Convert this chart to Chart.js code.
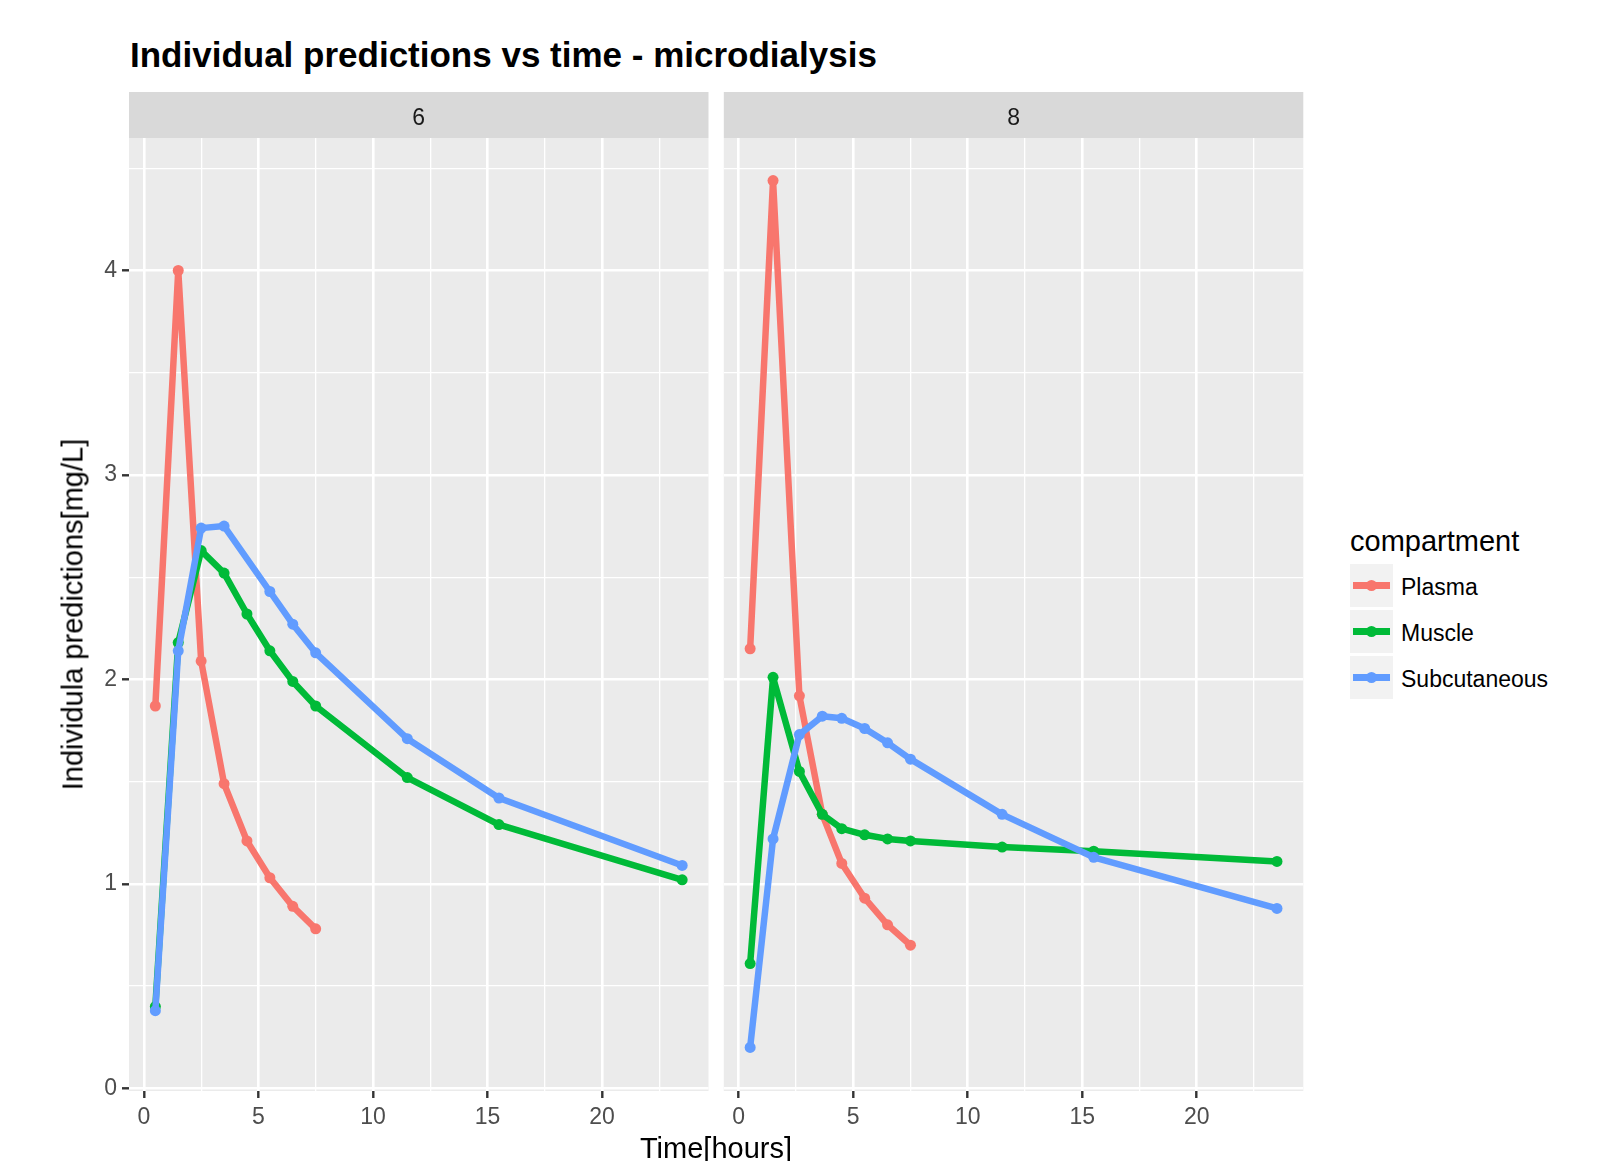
<!DOCTYPE html>
<html lang="en">
<head>
<meta charset="UTF-8">
<title>Individual predictions vs time - microdialysis</title>
<script src="https://cdn.jsdelivr.net/npm/chart.js@4"></script>
<style>
  body { margin: 0; background: #fff; font-family: "Liberation Sans", Arial, sans-serif; }
  #wrap { position: relative; width: 1600px; height: 1161px; overflow: hidden; }
  canvas { position: absolute; top: 0; }
  #c6 { left: 0; }
  #c8 { left: 715px; }
  .txt { position: absolute; white-space: nowrap; color: #000; }
  #title { left: 130px; top: 37px; font-size: 35px; line-height: 35px; font-weight: bold; }
  #xtitle { left: 516px; width: 400px; text-align: center; top: 1134px; font-size: 29px; line-height: 29px; }
  #ytitle { left: -127px; top: 600px; width: 400px; text-align: center; font-size: 29px; line-height: 29px; transform: rotate(-90deg); }
  .key { position: absolute; left: 1350px; width: 43px; height: 43px; background: #F2F2F2; }
  .key .ln { position: absolute; left: 3px; width: 37px; top: 18.25px; height: 6.5px; }
  .key .pt { position: absolute; left: 16px; top: 16px; width: 11px; height: 11px; border-radius: 50%; }
  .lab { position: absolute; left: 1401px; font-size: 23px; line-height: 23px; }
</style>
</head>
<body>
<div id="wrap">
  <div id="title" class="txt">Individual predictions vs time - microdialysis</div>
  <canvas id="c6" width="720" height="1161"></canvas>
  <canvas id="c8" width="600" height="1161"></canvas>
  <div id="xtitle" class="txt">Time[hours]</div>
  <div id="ytitle" class="txt">Individula predictions[mg/L]</div>
  <div id="legend"></div>
</div>
<script>
// values
const compartments = ['Plasma', 'Muscle', 'Subcutaneous'];
const colors = ['#F8766D', '#00BA38', '#619CFF'];

const time6 = [0.5, 1.5, 2.5, 3.5, 4.5, 5.5, 6.5, 7.5, 11.5, 15.5, 23.5];
const plasma6 = [1.87, 4.00, 2.09, 1.49, 1.21, 1.03, 0.89, 0.78, null, null, null];
const muscle6 = [0.40, 2.18, 2.63, 2.52, 2.32, 2.14, 1.99, 1.87, 1.52, 1.29, 1.02];
const subcut6 = [0.38, 2.14, 2.74, 2.75, null, 2.43, 2.27, 2.13, 1.71, 1.42, 1.09];

const time8 = [0.5, 1.5, 2.65, 3.65, 4.5, 5.5, 6.5, 7.5, 11.5, 15.5, 23.5];
const plasma8 = [2.15, 4.44, 1.92, 1.34, 1.10, 0.93, 0.80, 0.70, null, null, null];
const muscle8 = [0.61, 2.01, 1.55, 1.34, 1.27, 1.24, 1.22, 1.21, 1.18, 1.16, 1.11];
const subcut8 = [0.20, 1.22, 1.73, 1.82, 1.81, 1.76, 1.69, 1.61, 1.34, 1.13, 0.88];

const xTicks = [0, 5, 10, 15, 20];
const xMinor = [2.5, 7.5, 12.5, 17.5, 22.5];
const yTicks = [0, 1, 2, 3, 4];
const yMinor = [0.5, 1.5, 2.5, 3.5, 4.5];

const FONT = '"Liberation Sans", Arial, sans-serif';

// grey panel + facet strip
const panelBg = {
  id: 'panelBg',
  beforeDraw(chart, args, opts) {
    const { ctx, chartArea: a } = chart;
    ctx.save();
    ctx.fillStyle = '#EBEBEB';
    ctx.fillRect(a.left, a.top, a.right - a.left, a.bottom - a.top);
    ctx.fillStyle = '#D9D9D9';
    ctx.fillRect(a.left, 92, a.right - a.left, a.top - 92);
    ctx.fillStyle = '#1A1A1A';
    ctx.font = '23px ' + FONT;
    ctx.textAlign = 'center';
    ctx.fillText(opts.label, (a.left + a.right) / 2, 125);
    ctx.restore();
  }
};

function gridFor(major, showTicks) {
  return {
    color: '#FFFFFF',
    lineWidth: c => major.includes(c.tick.value) ? 2.6 : 1.3,
    drawTicks: showTicks,
    tickLength: 7,
    tickWidth: 2.4,
    tickColor: c => major.includes(c.tick.value) ? '#333333' : 'rgba(0,0,0,0)'
  };
}

function makePanel(id, label, time, series, showY, pad) {
  const datasets = series.map((vals, i) => ({
    label: compartments[i],
    data: time.map((t, k) => ({ x: t, y: vals[k] })).filter(p => p.y !== null),
    borderColor: colors[i],
    backgroundColor: colors[i],
    pointBackgroundColor: colors[i],
    borderWidth: 6.5,
    borderJoinStyle: 'round',
    pointRadius: 5.5,
    pointBorderWidth: 0,
    pointHoverRadius: 5.5,
    order: 2 - i
  }));
  return new Chart(document.getElementById(id), {
    type: 'line',
    data: { datasets },
    plugins: [panelBg],
    options: {
      responsive: false,
      animation: false,
      devicePixelRatio: 1,
      layout: { padding: { left: pad[0], right: pad[1], top: 138, bottom: 0 } },
      plugins: { legend: { display: false }, tooltip: { enabled: false }, panelBg: { label } },
      scales: {
        x: {
          type: 'linear', min: -0.65, max: 24.65,
          afterBuildTicks: s => { s.ticks = [...xTicks, ...xMinor].sort((a, b) => a - b).map(v => ({ value: v })); },
          afterFit: s => { s.height = 70; },
          border: { display: false },
          grid: gridFor(xTicks, true),
          ticks: {
            autoSkip: false, maxRotation: 0, padding: 6, color: '#4D4D4D',
            font: { size: 23, family: FONT },
            callback: v => xTicks.includes(v) ? String(v) : ''
          }
        },
        y: {
          type: 'linear', min: -0.013, max: 4.648,
          afterBuildTicks: s => { s.ticks = [...yTicks, ...yMinor].sort((a, b) => a - b).map(v => ({ value: v })); },
          afterFit: s => { s.width = showY ? 129 : 0; },
          border: { display: false },
          grid: gridFor(yTicks, showY),
          ticks: {
            display: showY, autoSkip: false, padding: 5, color: '#4D4D4D',
            font: { size: 23, family: FONT },
            callback: v => yTicks.includes(v) ? String(v) : ''
          }
        }
      }
    }
  });
}

makePanel('c6', '6', time6, [plasma6, muscle6, subcut6], true, [0, 11.5]);
makePanel('c8', '8', time8, [plasma8, muscle8, subcut8], false, [8.8, 11.7]);

// legend
const legend = document.getElementById('legend');
let html = '<div class="txt" style="left:1350px;top:527px;font-size:29px;line-height:29px;">compartment</div>';
compartments.forEach((name, i) => {
  const top = 564 + i * 46;
  html += '<div class="key" style="top:' + top + 'px"><div class="ln" style="background:' + colors[i] + '"></div>' +
          '<div class="pt" style="background:' + colors[i] + '"></div></div>';
  html += '<div class="txt lab" style="top:' + (top + 11.7) + 'px">' + name + '</div>';
});
legend.innerHTML = html;
</script>
</body>
</html>
